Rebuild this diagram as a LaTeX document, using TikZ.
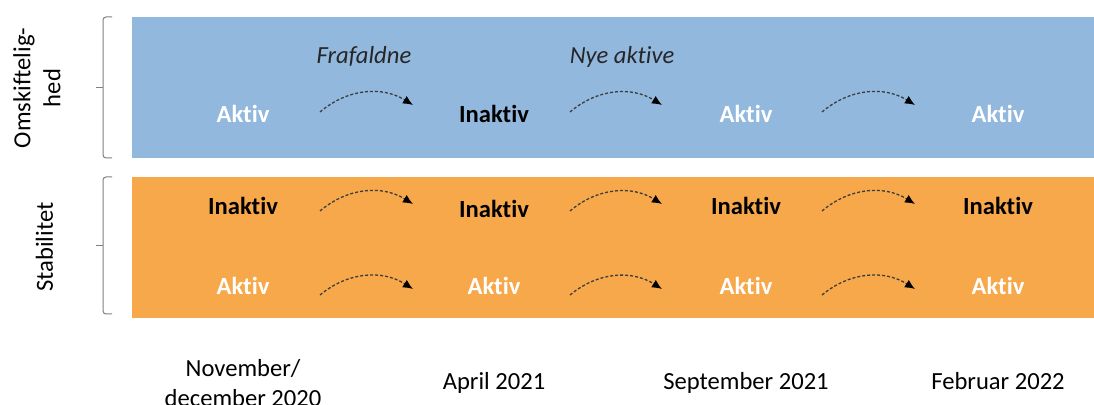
\documentclass[tikz,border=0pt]{standalone}
\usepackage{fontspec}
\setmainfont{Carlito}[Ligatures=NoCommon]
\usetikzlibrary{arrows.meta}
\definecolor{boxblue}{RGB}{146,184,222}
\definecolor{boxorange}{RGB}{247,168,74}
\definecolor{bracegray}{RGB}{128,128,128}
\definecolor{flowgray}{RGB}{60,60,60}
\begin{document}
\begin{tikzpicture}[x=0.5pt,y=0.5pt,
  lbl/.style={font=\fontsize{12.3}{15}\selectfont, inner sep=0pt, anchor=base},
  bw/.style={lbl, font=\fontsize{12.3}{15}\selectfont\bfseries, text=white},
  bb/.style={lbl, font=\fontsize{12.3}{15}\selectfont\bfseries, text=black},
  itl/.style={lbl, font=\fontsize{12.3}{15}\selectfont\itshape, text=black!85},
  flow/.style={draw=flowgray, line width=0.65pt, dash pattern=on 1.5pt off 1pt,
    -{Latex[length=5pt,width=4.4pt,black]}, bend left=36},
  brace/.style={draw=bracegray, line width=0.5pt, rounded corners=1.5pt}]
\useasboundingbox (0,0) rectangle (1094,-405);
% bands
\fill[boxblue] (132,-17) rectangle (1094,-158);
\fill[boxorange] (132,-177) rectangle (1094,-318);
% brackets
\draw[brace] (112,-17) -- (103,-17) -- (103,-158) -- (112,-158);
\draw[brace] (103,-88) -- (96,-88);
\draw[brace] (112,-177) -- (103,-177) -- (103,-314) -- (112,-314);
\draw[brace] (103,-246) -- (96,-246);
% side labels
\node[lbl, rotate=90, align=center, anchor=center] (omsk) at (37,-88) {Omskiftelig-\\hed};
\node[lbl, rotate=90] (stab) at (53,-247) {Stabilitet};
% row 1
\node[bw] (a1) at (243,-123) {Aktiv};
\node[bb] (a2) at (494,-123) {Inaktiv};
\node[bw] (a3) at (746,-123) {Aktiv};
\node[bw] (a4) at (998,-123) {Aktiv};
\node[itl] (fra) at (364,-64) {Frafaldne};
\node[itl] (nye) at (622,-64) {Nye aktive};
% row 2
\node[bb] (b1) at (243,-215) {Inaktiv};
\node[bb] (b2) at (494,-218) {Inaktiv};
\node[bb] (b3) at (746,-215) {Inaktiv};
\node[bb] (b4) at (998,-215) {Inaktiv};
% row 3
\node[bw] (c1) at (243,-295) {Aktiv};
\node[bw] (c2) at (494,-295) {Aktiv};
\node[bw] (c3) at (746,-295) {Aktiv};
\node[bw] (c4) at (998,-295) {Aktiv};
% dates
\node[lbl, align=center, anchor=center] (d1) at (243,-383) {November/\\december 2020};
\node[lbl] (d2) at (494,-390) {April 2021};
\node[lbl] (d3) at (746,-390) {September 2021};
\node[lbl] (d4) at (998,-390) {Februar 2022};
% arrow end points
\foreach \r/\ys/\ye in {1/112/105, 2/211/204, 3/295/289} {
  \coordinate (s\r1) at (320,-\ys); \coordinate (e\r1) at (413,-\ye);
  \coordinate (s\r2) at (570,-\ys); \coordinate (e\r2) at (662,-\ye);
  \coordinate (s\r3) at (822,-\ys); \coordinate (e\r3) at (915,-\ye);
}
\foreach \r in {1,2,3} {
  \foreach \c in {1,2,3} {
    \draw[flow] (s\r\c) to (e\r\c);
  }
}
\end{tikzpicture}
\end{document}
